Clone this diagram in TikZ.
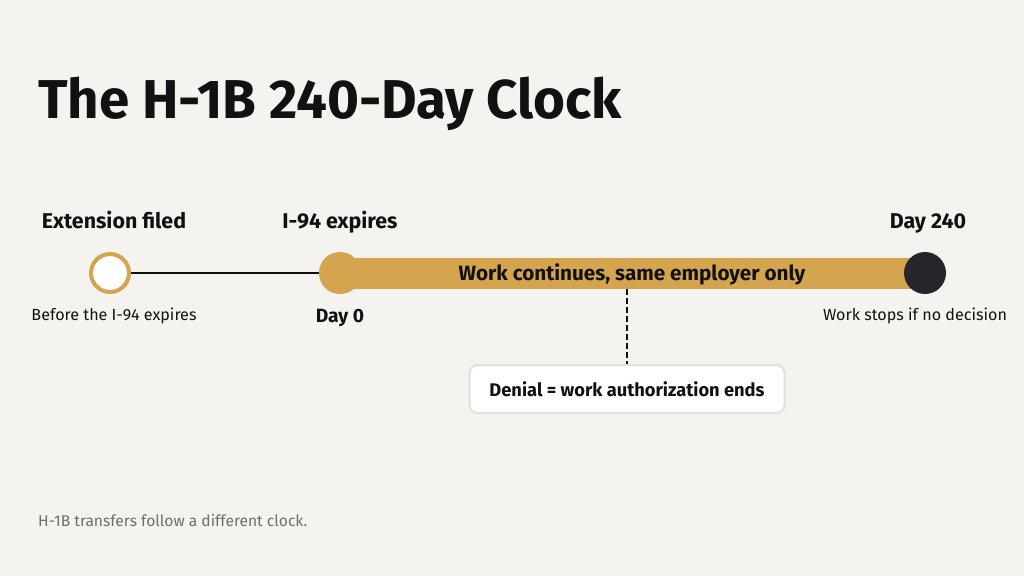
\documentclass[tikz,border=0pt]{standalone}
\usepackage{fontspec}
\setmainfont{Fira Sans}
\definecolor{bg}{HTML}{F4F3EF}
\definecolor{gold}{HTML}{D4A44E}
\definecolor{ink}{HTML}{111111}
\definecolor{darkdot}{HTML}{25252B}
\definecolor{boxline}{HTML}{E2E0DA}
\definecolor{foot}{HTML}{6E6E6E}
\tikzset{
  lbl/.style={font=\bfseries\fontsize{21.4}{25}\selectfont, text=ink, inner sep=0pt},
  sub/.style={font=\fontsize{16.1}{19}\selectfont, text=ink, inner sep=0pt},
  dot/.style={circle, minimum size=42pt, inner sep=0pt},
}
\begin{document}
\begin{tikzpicture}[x=1pt,y=-1pt]
\fill[bg] (0,0) rectangle (1024,576);
\useasboundingbox (0,0) rectangle (1024,576);
\node[anchor=base west, inner sep=0pt, font=\bfseries\fontsize{54.7}{60}\selectfont, text=ink] (title) at (38,118) {The H-1B 240-Day Clock};
% bar
\fill[gold] (340,258) rectangle (925,289);
\node[dot, fill=white, draw=gold, line width=4pt, minimum size=38pt] (ext) at (110,273) {};
\node[dot, fill=gold] (d0) at (340,273) {};
\node[dot, fill=darkdot] (d240) at (925,273) {};
\draw[ink, line width=2.5pt] (ext.east) -- (d0.west);
\node[font=\bfseries\fontsize{20.7}{24}\selectfont, text=ink, inner sep=0pt] (work) at (632,274) {Work continues, same employer only};
\node[lbl, anchor=base] (lext) at (114,228) {Extension filed};
\node[lbl, anchor=base] (li94) at (340,228) {I-94 expires};
\node[lbl, anchor=base] (l240) at (928,228) {Day 240};
\node[sub, anchor=base] (sext) at (114,320) {Before the I-94 expires};
\node[lbl, anchor=base, font=\bfseries\fontsize{19.2}{22}\selectfont] (s0) at (340,322) {Day 0};
\node[sub, anchor=base] (s240) at (915,320) {Work stops if no decision};
\node[draw=boxline, line width=2pt, fill=white, rounded corners=8pt, minimum width=315pt, minimum height=48pt, inner sep=0pt, font=\bfseries\fontsize{18.3}{21}\selectfont, text=ink] (deny) at (627,389) {Denial = work authorization ends};
\coordinate (tick) at (627,289);
\draw[ink, line width=1.5pt, dash pattern=on 6pt off 3pt] (tick) -- (deny.north);
\node[anchor=base west, inner sep=0pt, font=\fontsize{15.6}{18}\selectfont, text=foot] (note) at (38,526) {H-1B transfers follow a different clock.};
\end{tikzpicture}
\end{document}
